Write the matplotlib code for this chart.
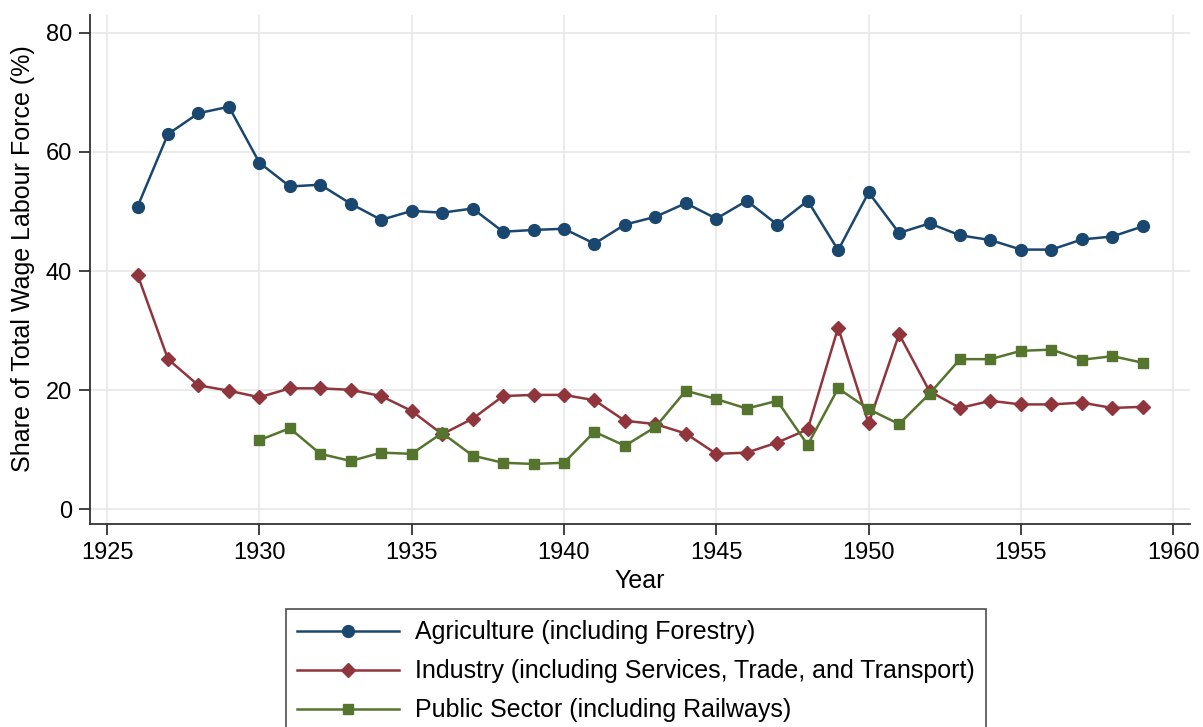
import matplotlib.pyplot as plt
import numpy as np

plt.rcParams['font.family'] = ['Liberation Sans', 'DejaVu Sans']

years = list(range(1926, 1960))
pub_years = list(range(1930, 1960))

agriculture = [50.8, 63.0, 66.5, 67.6, 58.2, 54.2, 54.5, 51.3, 48.6, 50.1,
               49.8, 50.5, 46.6, 46.9, 47.1, 44.6, 47.8, 49.1, 51.4, 48.8,
               51.8, 47.8, 51.8, 43.5, 53.2, 46.4, 48.0, 46.0, 45.2, 43.6,
               43.6, 45.3, 45.8, 47.5]
industry = [39.4, 25.2, 20.8, 19.9, 18.8, 20.3, 20.3, 20.05, 19.0, 16.5,
            12.6, 15.2, 19.0, 19.2, 19.2, 18.3, 14.85, 14.3, 12.7, 9.3,
            9.5, 11.2, 13.4, 30.5, 14.4, 29.4, 19.8, 17.0, 18.2, 17.6,
            17.6, 17.9, 17.0, 17.2]
public = [11.6, 13.6, 9.3, 8.1, 9.5, 9.3, 12.8, 9.0, 7.8, 7.6,
          7.8, 13.0, 10.65, 13.8, 19.9, 18.5, 16.9, 18.2, 10.8, 20.3,
          16.8, 14.3, 19.4, 25.2, 25.2, 26.6, 26.8, 25.1, 25.7, 24.6]

labels = ["Agriculture (including Forestry)",
          "Industry (including Services, Trade, and Transport)",
          "Public Sector (including Railways)"]
colors = ["#1a476f", "#90353b", "#55752f"]

fig = plt.figure(figsize=(12.03, 7.27), dpi=100)
ax = fig.add_axes([90/1203, 1-523.5/727, 1100/1203, 508.5/727])

ax.plot(years, agriculture, color=colors[0], lw=1.8, marker='o', ms=8.5, label=labels[0])
ax.plot(years, industry, color=colors[1], lw=1.8, marker='D', ms=7.5, label=labels[1])
ax.plot(pub_years, public, color=colors[2], lw=1.8, marker='s', ms=7.5, label=labels[2])

ax.set_xlim(1924.44, 1960.55)
ax.set_ylim(-2.4, 83)
ax.set_xticks(np.arange(1925, 1961, 5))
ax.set_yticks(np.arange(0, 81, 20))
ax.grid(True, color='#e8e8e8', lw=1.2)
ax.set_axisbelow(True)

for s in ['top', 'right']:
    ax.spines[s].set_visible(False)
for s in ['left', 'bottom']:
    ax.spines[s].set_color('#333333')
    ax.spines[s].set_linewidth(1.3)
ax.tick_params(direction='out', length=8, width=1.3, color='#333333', labelsize=17, pad=5)

ax.set_xlabel('Year', fontsize=18)
ax.xaxis.set_label_coords(0.5, -0.09)
ax.set_ylabel('Share of Total Wage Labour Force (%)', fontsize=18)
ax.yaxis.set_label_coords(-0.05, 0.52)

leg = fig.legend(loc='upper left', bbox_to_anchor=(285.5/1203, 1-609/727),
                 fontsize=18, frameon=True, fancybox=False, edgecolor='#333333',
                 handlelength=4.1, handletextpad=0.62, labelspacing=0.6,
                 borderpad=0.45, borderaxespad=0)
leg.get_frame().set_linewidth(1.3)

fig.savefig('out.png', dpi=100, facecolor='white')
